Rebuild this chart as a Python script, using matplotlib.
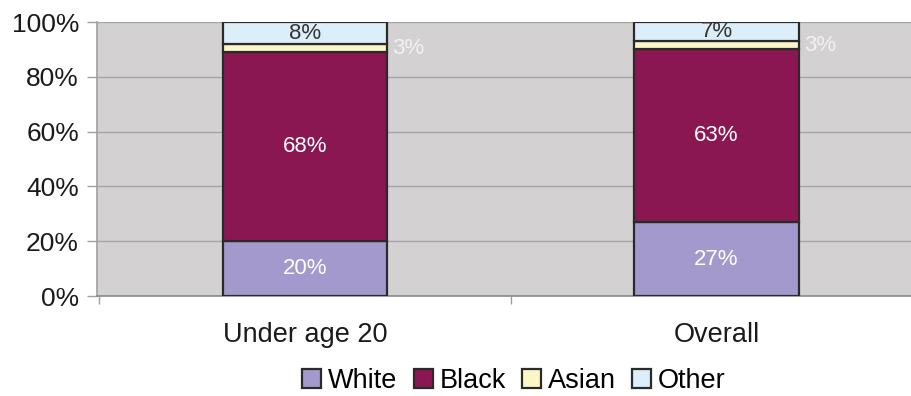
import matplotlib
matplotlib.use("Agg")
import matplotlib.pyplot as plt
import numpy as np

categories = ["Under age 20", "Overall"]
series_names = ["White", "Black", "Asian", "Other"]
white = [20, 27]
black = [68, 63]
asian = [3, 3]
other = [8, 7]
y_ticks = [0, 20, 40, 60, 80, 100]

colors = ["#A399CD", "#8B1752", "#FAF6C8", "#DCEEF9"]
label_colors = ["white", "white", "white", "#333333"]

plt.rcParams['font.family'] = ['Liberation Sans', 'DejaVu Sans']

fig = plt.figure(figsize=(9.12, 3.96), dpi=100)
ax = fig.add_axes([97/912, 1-296/396, 1-97/912, (296-22)/396])
ax.set_facecolor("#D3D1D2")

series = [white, black, asian, other]
totals = np.sum(np.array(series, dtype=float), axis=0)
x = np.arange(len(categories))
width = 0.40
bottom = np.zeros(len(categories))
for name, vals, col, lc in zip(series_names, series, colors, label_colors):
    vals = np.array(vals, dtype=float)
    h = vals / totals * 100
    ax.bar(x, h, width, bottom=bottom, color=col, edgecolor="#2a2a2a",
           linewidth=1.6, label=name, zorder=3)
    for xi, b, hh, v in zip(x, bottom, h, vals):
        if name == "Asian":
            ax.text(xi + width/2 + 0.012, b + hh/2, f"{int(v)}%", color="#F2F2F2",
                    ha="left", va="center", fontsize=16, zorder=4)
        else:
            ax.text(xi, b + hh/2, f"{int(v)}%", color=lc,
                    ha="center", va="center", fontsize=16, zorder=4)
    bottom += h

ax.set_xlim(-0.505, 1.475)
ax.set_ylim(0, 100)
ax.set_yticks(y_ticks)
ax.set_yticklabels([f"{t}%" for t in y_ticks], fontsize=19, color="#1a1a1a")
ax.yaxis.grid(True, color="#A5A5A5", linewidth=1.0, zorder=0)
ax.set_axisbelow(True)
ax.set_xticks(x)
ax.set_xticklabels(categories, fontsize=19.5, color="#1a1a1a")
ax.set_xticks([-0.5, 0.5], minor=True)
ax.tick_params(axis="x", which="major", length=0, pad=19)
ax.tick_params(axis="x", which="minor", length=6, color="#A0A0A0", width=1)
ax.tick_params(axis="y", length=7, color="#A0A0A0", width=1, pad=6)

for s in ["top", "right"]:
    ax.spines[s].set_visible(False)
ax.spines["left"].set_color("#A0A0A0")
ax.spines["bottom"].set_color("#8A8A8A")
ax.spines["left"].set_linewidth(1.2)
ax.spines["bottom"].set_linewidth(1.2)

fig.legend(loc="center", bbox_to_anchor=(514/912, 1-381/396), ncol=4,
           frameon=False, fontsize=19.5, handlelength=0.7, handleheight=0.7,
           handletextpad=0.25, columnspacing=0.6, borderaxespad=0)

fig.savefig("out.png", dpi=100)
